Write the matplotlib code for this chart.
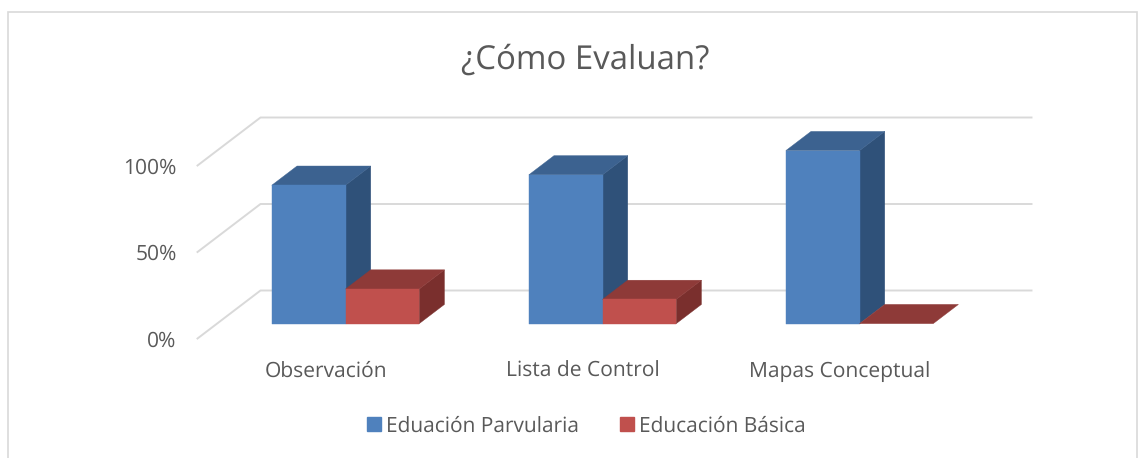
import matplotlib
matplotlib.use('Agg')
import matplotlib.pyplot as plt
from matplotlib.patches import Patch, Polygon, Rectangle

categories = ['Observación', 'Lista de Control', 'Mapas Conceptual']
parvularia = [80, 86, 100]
basica = [20, 14, 0]
series_names = ['Eduación Parvularia', 'Educación Básica']
y_ticks = [0, 50, 100]
y_tick_labels = ['0%', '50%', '100%']

W, H = 1146, 458
TEXT = '#595959'
GRID = '#d9d9d9'

# depth of the fake 3d box, in data units
DX = 63 / 257
DY = 48 / 173 * 100
FRONT = 0.31
BACK = 0.71
BAR_W = 73.7 / 257

plt.rcParams['font.family'] = ['Open Sans', 'DejaVu Sans']
plt.rcParams['text.hinting'] = 'no_hinting'


def draw_bar(ax, x, h, front, top, side):
    x0, x1 = x, x + BAR_W
    sx, sy = DX * FRONT, DY * FRONT
    bx, by = DX * BACK, DY * BACK
    if h > 0:
        ax.add_patch(Polygon([(x1 + sx, sy), (x1 + bx, by), (x1 + bx, h + by), (x1 + sx, h + sy)],
                             fc=side, ec=side, lw=0.3, clip_on=False, zorder=3))
    ax.add_patch(Polygon([(x0 + sx, h + sy), (x1 + sx, h + sy), (x1 + bx, h + by), (x0 + bx, h + by)],
                         fc=top, ec=top, lw=0.3, clip_on=False, zorder=3))
    if h > 0:
        ax.add_patch(Rectangle((x0 + sx, sy), BAR_W, h, fc=front, ec=front, lw=0.3,
                               clip_on=False, zorder=3))


fig = plt.figure(figsize=(W / 100, H / 100), dpi=100)
fig.add_artist(Rectangle((8 / W, -0.02), (1137 - 8) / W, 1.02 - 12 / H, transform=fig.transFigure,
                         fc='none', ec=GRID, lw=1.2))

ax = fig.add_axes([197.5 / W, 1 - 338.5 / H, (968 - 197) / W, (338 - 165) / H])
ax.set_xlim(0, 3)
ax.set_ylim(0, 100)
for s in ax.spines.values():
    s.set_visible(False)

for v in y_ticks:
    ax.plot([0, DX, 3 + DX], [v, v + DY, v + DY], color=GRID, lw=1.4, clip_on=False, zorder=1)

for i in range(len(categories)):
    draw_bar(ax, i + 0.5 - BAR_W, parvularia[i], '#4f81bd', '#3c6290', '#2f5179')
    draw_bar(ax, i + 0.5, basica[i], '#c0504d', '#8e3a38', '#7a2f2d')

ax.set_yticks(y_ticks)
ax.set_yticklabels(y_tick_labels, fontsize=15.1, color=TEXT)
ax.set_xticks([i + 0.5 for i in range(len(categories))])
ax.set_xticklabels(categories, fontsize=15.1, color=TEXT)
ax.tick_params(axis='both', length=0)
ax.tick_params(axis='y', pad=15)
ax.tick_params(axis='x', pad=16)

fig.text(585 / W, 1 - 60 / H, '¿Cómo Evaluan?', fontsize=23.8, color=TEXT, ha='center', va='center')

handles = [Patch(color='#4f81bd', label=series_names[0]), Patch(color='#c0504d', label=series_names[1])]
fig.legend(handles=handles, ncol=2, loc='center', bbox_to_anchor=(586.5 / W, 1 - 426 / H), frameon=False,
           fontsize=15, labelcolor=TEXT, handlelength=0.68, handleheight=0.68, handletextpad=0.25,
           columnspacing=1.95)

fig.savefig('out.png', dpi=100)
